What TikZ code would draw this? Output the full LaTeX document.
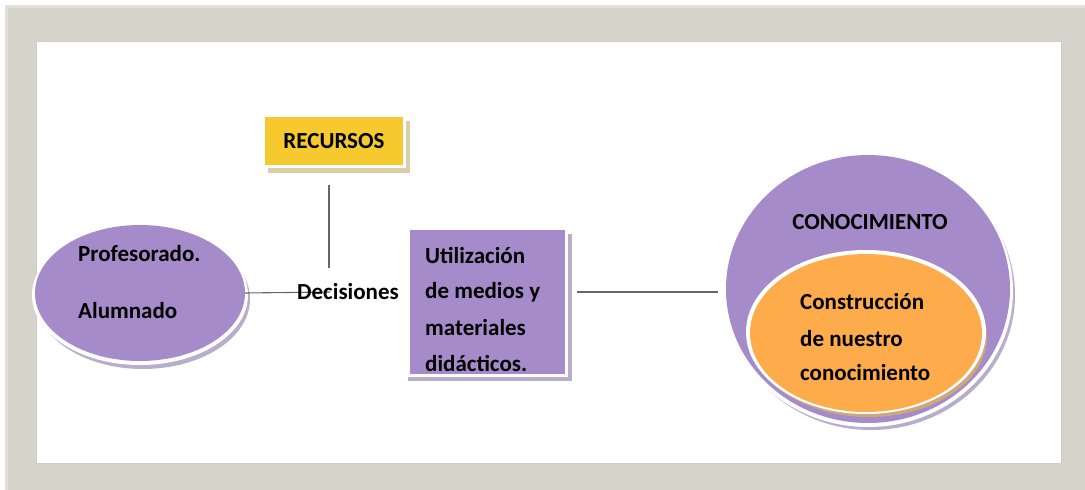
\documentclass[tikz,border=0pt]{standalone}
\usepackage{fontspec}
\setmainfont{Carlito}
\usetikzlibrary{shapes.geometric}
\definecolor{framegray}{HTML}{D6D3CB}
\definecolor{lav}{HTML}{A68BCA}
\definecolor{lavshadow}{HTML}{B8AECB}
\definecolor{gold}{HTML}{F6C92E}
\definecolor{goldshadow}{HTML}{D9CDAA}
\definecolor{orng}{HTML}{FDAB4B}
\definecolor{orngshadow}{HTML}{CFA77C}
\definecolor{linegray}{HTML}{666666}
\tikzset{
  x=1pt, y=-1pt,
  lbl/.style={font=\bfseries\fontsize{23}{23}\selectfont, inner sep=0pt, text=black},
  conn/.style={draw=linegray, line width=1.1pt},
}
\begin{document}
\begin{tikzpicture}
\useasboundingbox (0,0) rectangle (1085,490);
\fill[white] (0,0) rectangle (1085,490);
% frame
\fill[gray!25] (5,5) rectangle (1085,490);
\fill[framegray] (8,8) rectangle (1085,490);
\fill[gray!40] (36,41) rectangle (1062,464);
\fill[white] (37,42) rectangle (1061,463);

% left ellipse
\fill[lavshadow] (143,299) ellipse [x radius=107, y radius=70];
\fill[white] (140,295) ellipse [x radius=108, y radius=70];
\node[ellipse, fill=lav, minimum width=210pt, minimum height=136pt, inner sep=0pt] (people) at (140,293) {};
\node[lbl, anchor=west] (prof) at (78,254) {Profesorado.};
\node[lbl, anchor=west] (alum) at (78,311) {Alumnado};

% recursos
\fill[goldshadow] (268,121) rectangle (410,173);
\fill[white] (265,117) rectangle (406,168);
\node[fill=gold, minimum width=138pt, minimum height=48pt, inner sep=0pt, lbl] (rec) at (334,141) {RECURSOS};

% utilizacion box
\fill[lavshadow] (408,234) rectangle (572,381);
\fill[white] (405,230) rectangle (568,377);
\node[fill=lav, minimum width=155pt, minimum height=144pt, inner sep=0pt] (util) at (487.5,302) {};
\node[lbl, anchor=west] at (425,255) {Utilización};
\node[lbl, anchor=west] at (425,292) {de medios y};
\node[lbl, anchor=west] at (425,328) {materiales};
\node[lbl, anchor=west] at (425,363) {didácticos.};

% conocimiento
\fill[lavshadow] (871,295) ellipse [x radius=144, y radius=135];
\fill[white] (868,291) ellipse [x radius=145, y radius=136];
\node[ellipse, fill=lav, minimum width=284pt, minimum height=268pt, inner sep=0pt] (con) at (868,289) {};
\node[lbl] (contit) at (870,222) {CONOCIMIENTO};
\fill[orngshadow] (869,337) ellipse [x radius=118, y radius=80];
\fill[white] (866,332) ellipse [x radius=120, y radius=82];
\node[ellipse, fill=orng, minimum width=232pt, minimum height=158pt, inner sep=0pt] (cons) at (866,333) {};
\node[lbl, anchor=west] at (800,302) {Construcción};
\node[lbl, anchor=west] at (800,339) {de nuestro};
\node[lbl, anchor=west] at (800,373) {conocimiento};

% connectors
\coordinate (rb) at (329,185);
\coordinate (decTop) at (329,268);
\draw[conn] (rb) -- (decTop);
\coordinate (decL) at (330,292);
\draw[conn] (people.east) -- (decL);
\node[lbl] (dec) at (348,292) {Decisiones};
\coordinate (uR) at (577,292);
\coordinate (cL) at (718,292);
\draw[conn] (uR) -- (cL);
\end{tikzpicture}
\end{document}
